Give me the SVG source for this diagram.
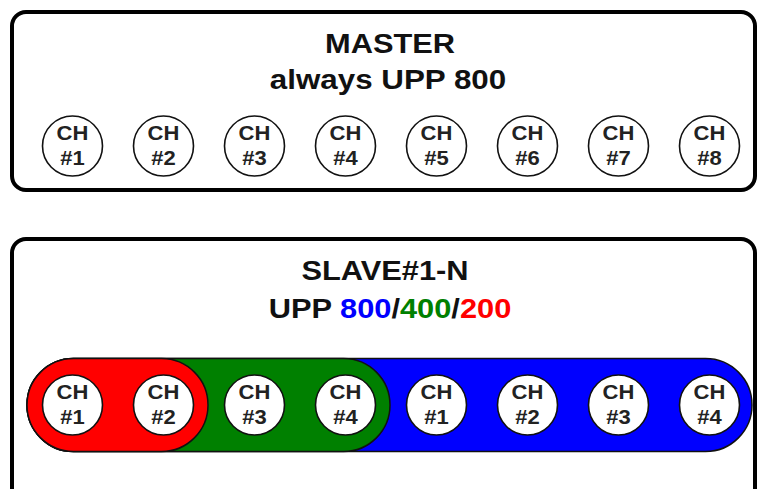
<svg xmlns="http://www.w3.org/2000/svg" width="760" height="489" viewBox="0 0 760 489">
<style>
.box{fill:#fff;stroke:#000;stroke-width:4}
.ch{fill:#fff;stroke:#111;stroke-width:1.6}
.t{font-family:"Liberation Sans",Arial,sans-serif;font-weight:bold;fill:#111}
.title{font-size:28px}
.cht{font-size:20px;fill:#222}
.pill{stroke:#111;stroke-width:1.5}
</style>
<defs>
<g id="chshape"><circle cx="0" cy="0" r="30" class="ch"/></g>
</defs>
<rect width="760" height="489" fill="#fff"/>
<g id="master">
<rect class="box" x="12" y="12" width="743" height="178" rx="14"/>
<text class="t title" text-anchor="middle" transform="translate(390 53) scale(1.1 1)">MASTER</text>
<text class="t title" text-anchor="middle" transform="translate(388 89) scale(1.12 1)">always UPP 800</text>
</g>
<g id="master-channels">
<g id="m-ch1" transform="translate(72.5 146)"><use href="#chshape"/><text class="t cht" text-anchor="middle" transform="translate(0 -6) scale(1.1 1)">CH</text><text class="t cht" text-anchor="middle" transform="translate(0 19) scale(1.1 1)">#1</text></g>
<g id="m-ch2" transform="translate(163.5 146)"><use href="#chshape"/><text class="t cht" text-anchor="middle" transform="translate(0 -6) scale(1.1 1)">CH</text><text class="t cht" text-anchor="middle" transform="translate(0 19) scale(1.1 1)">#2</text></g>
<g id="m-ch3" transform="translate(254.5 146)"><use href="#chshape"/><text class="t cht" text-anchor="middle" transform="translate(0 -6) scale(1.1 1)">CH</text><text class="t cht" text-anchor="middle" transform="translate(0 19) scale(1.1 1)">#3</text></g>
<g id="m-ch4" transform="translate(345.5 146)"><use href="#chshape"/><text class="t cht" text-anchor="middle" transform="translate(0 -6) scale(1.1 1)">CH</text><text class="t cht" text-anchor="middle" transform="translate(0 19) scale(1.1 1)">#4</text></g>
<g id="m-ch5" transform="translate(436.5 146)"><use href="#chshape"/><text class="t cht" text-anchor="middle" transform="translate(0 -6) scale(1.1 1)">CH</text><text class="t cht" text-anchor="middle" transform="translate(0 19) scale(1.1 1)">#5</text></g>
<g id="m-ch6" transform="translate(527.5 146)"><use href="#chshape"/><text class="t cht" text-anchor="middle" transform="translate(0 -6) scale(1.1 1)">CH</text><text class="t cht" text-anchor="middle" transform="translate(0 19) scale(1.1 1)">#6</text></g>
<g id="m-ch7" transform="translate(618.5 146)"><use href="#chshape"/><text class="t cht" text-anchor="middle" transform="translate(0 -6) scale(1.1 1)">CH</text><text class="t cht" text-anchor="middle" transform="translate(0 19) scale(1.1 1)">#7</text></g>
<g id="m-ch8" transform="translate(709.5 146)"><use href="#chshape"/><text class="t cht" text-anchor="middle" transform="translate(0 -6) scale(1.1 1)">CH</text><text class="t cht" text-anchor="middle" transform="translate(0 19) scale(1.1 1)">#8</text></g>
</g>
<g id="slave">
<rect class="box" x="12" y="239" width="743" height="280" rx="14"/>
<text class="t title" text-anchor="middle" transform="translate(385 280) scale(1.1 1)">SLAVE#1-N</text>
<text class="t title" text-anchor="middle" transform="translate(390 318) scale(1.1 1)">UPP <tspan fill="#0000ff">800</tspan>/<tspan fill="#008000">400</tspan>/<tspan fill="#ff0000">200</tspan></text>
</g>
<g id="groups">
<rect id="g800" class="pill" x="27" y="358.5" width="725" height="93" rx="46.5" fill="#0000ff"/>
<rect id="g400" class="pill" x="27" y="358.5" width="363" height="93" rx="46.5" fill="#008000"/>
<rect id="g200" class="pill" x="27" y="358.5" width="181" height="93" rx="46.5" fill="#ff0000"/>
</g>
<g id="slave-channels">
<g id="s-ch1" transform="translate(72.5 405)"><use href="#chshape"/><text class="t cht" text-anchor="middle" transform="translate(0 -6) scale(1.1 1)">CH</text><text class="t cht" text-anchor="middle" transform="translate(0 19) scale(1.1 1)">#1</text></g>
<g id="s-ch2" transform="translate(163.5 405)"><use href="#chshape"/><text class="t cht" text-anchor="middle" transform="translate(0 -6) scale(1.1 1)">CH</text><text class="t cht" text-anchor="middle" transform="translate(0 19) scale(1.1 1)">#2</text></g>
<g id="s-ch3" transform="translate(254.5 405)"><use href="#chshape"/><text class="t cht" text-anchor="middle" transform="translate(0 -6) scale(1.1 1)">CH</text><text class="t cht" text-anchor="middle" transform="translate(0 19) scale(1.1 1)">#3</text></g>
<g id="s-ch4" transform="translate(345.5 405)"><use href="#chshape"/><text class="t cht" text-anchor="middle" transform="translate(0 -6) scale(1.1 1)">CH</text><text class="t cht" text-anchor="middle" transform="translate(0 19) scale(1.1 1)">#4</text></g>
<g id="s-ch5" transform="translate(436.5 405)"><use href="#chshape"/><text class="t cht" text-anchor="middle" transform="translate(0 -6) scale(1.1 1)">CH</text><text class="t cht" text-anchor="middle" transform="translate(0 19) scale(1.1 1)">#1</text></g>
<g id="s-ch6" transform="translate(527.5 405)"><use href="#chshape"/><text class="t cht" text-anchor="middle" transform="translate(0 -6) scale(1.1 1)">CH</text><text class="t cht" text-anchor="middle" transform="translate(0 19) scale(1.1 1)">#2</text></g>
<g id="s-ch7" transform="translate(618.5 405)"><use href="#chshape"/><text class="t cht" text-anchor="middle" transform="translate(0 -6) scale(1.1 1)">CH</text><text class="t cht" text-anchor="middle" transform="translate(0 19) scale(1.1 1)">#3</text></g>
<g id="s-ch8" transform="translate(709.5 405)"><use href="#chshape"/><text class="t cht" text-anchor="middle" transform="translate(0 -6) scale(1.1 1)">CH</text><text class="t cht" text-anchor="middle" transform="translate(0 19) scale(1.1 1)">#4</text></g>
</g>
</svg>
